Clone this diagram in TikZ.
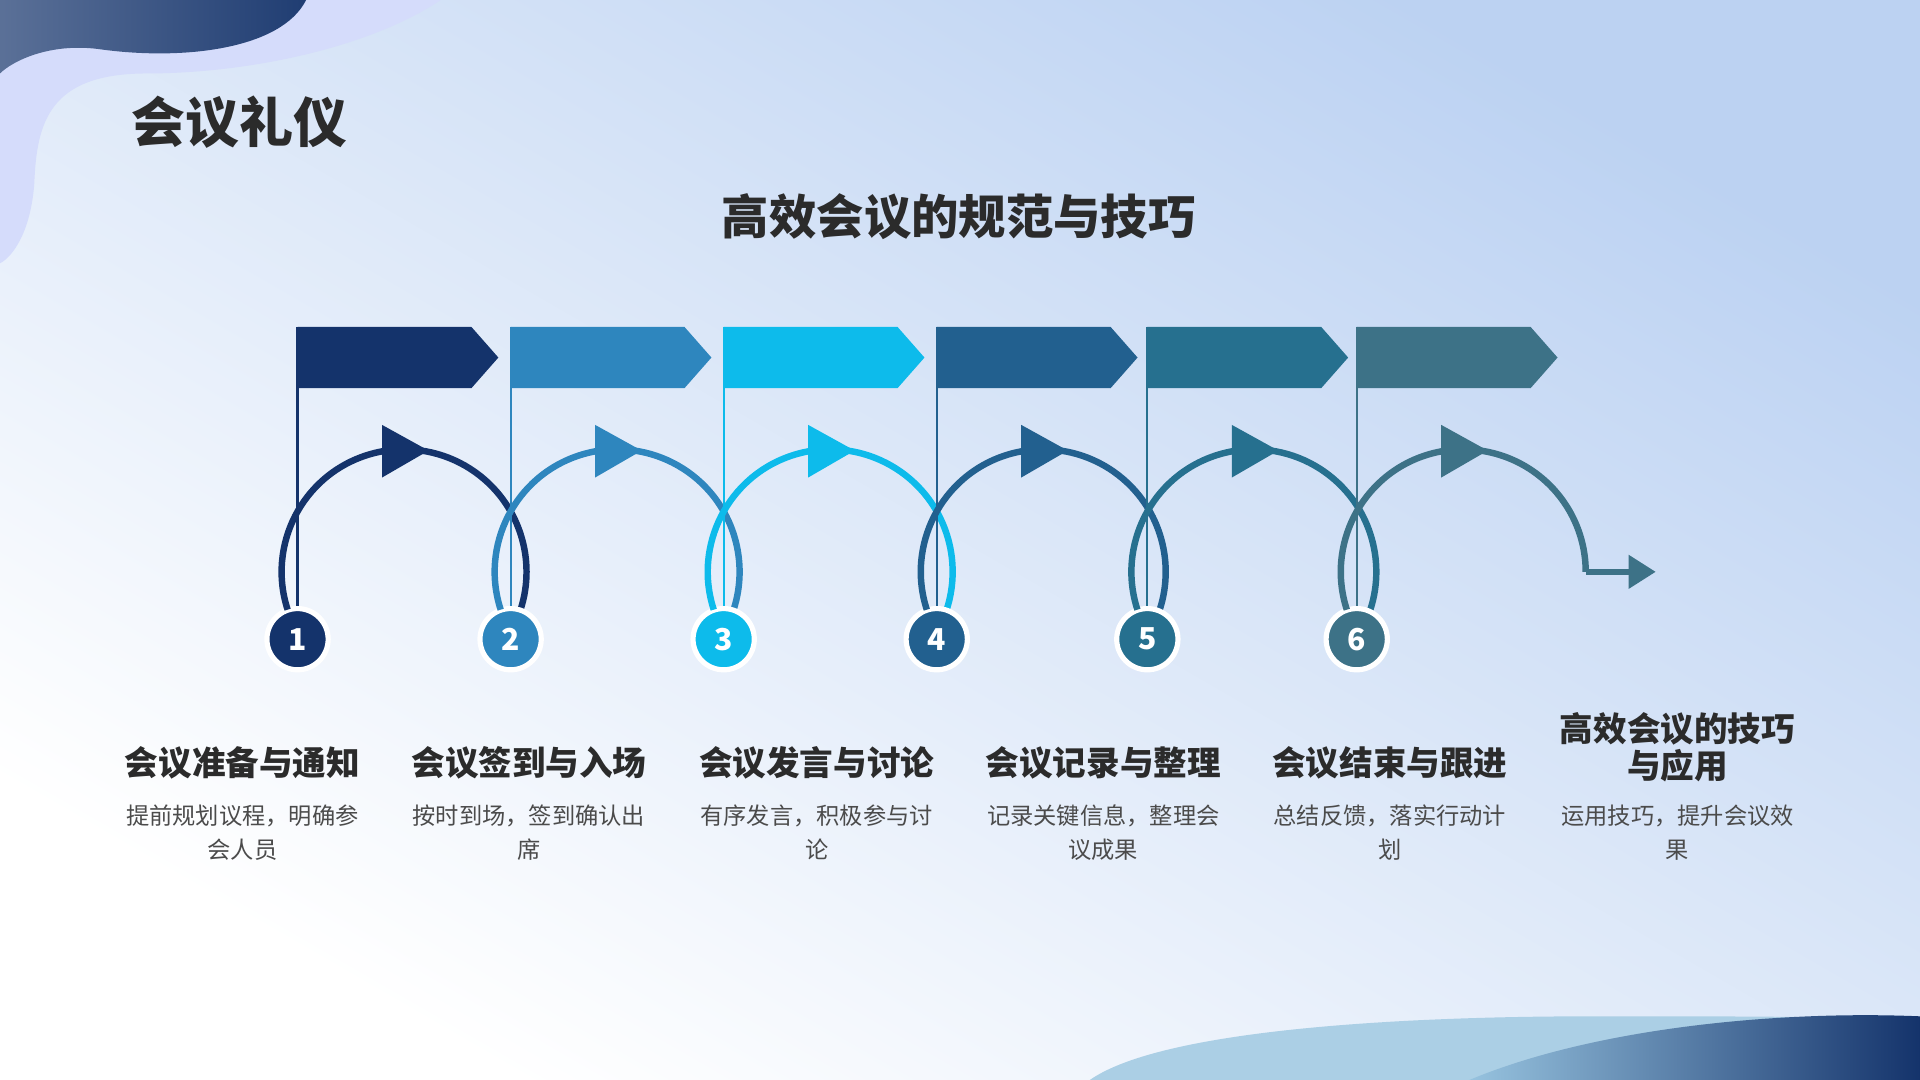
\documentclass[tikz,border=0pt]{standalone}
\usepackage{fontspec}
\setmainfont{Noto Sans CJK SC}
\definecolor{cA}{HTML}{14336B}
\definecolor{cB}{HTML}{2E86BE}
\definecolor{cC}{HTML}{0DBBEB}
\definecolor{cD}{HTML}{22608F}
\definecolor{cE}{HTML}{26708F}
\definecolor{cF}{HTML}{3D7287}
\definecolor{txt}{HTML}{2B2B2B}
\definecolor{bgB}{HTML}{BCD2F2}
\begin{document}
\begin{tikzpicture}[x=0.01cm,y=-0.01cm,
  steptitle/.style={font=\fontsize{7.8}{8}\selectfont\bfseries,text=txt,align=center},
  stepdesc/.style={font=\fontsize{5.4}{8}\selectfont,text=txt!85,align=center,text width=2cm},
  arcline/.style={line width=1.5pt}]
\useasboundingbox (0,0) rectangle (1568,882);
\shade[shading=axis,top color=bgB,bottom color=white,shading angle=-30] (0,0) rectangle (1568,882);
% decorative blobs
\fill[bgB!80!blue!40] (0,0) -- (360,0) .. controls (300,40) and (200,60) .. (120,60) .. controls (40,60) and (30,100) .. (28,150) .. controls (25,190) and (10,210) .. (0,215) -- cycle;
\shade[left color=cA!70,right color=cA!95] (0,0) -- (250,0) .. controls (230,40) and (150,50) .. (80,40) .. controls (40,35) and (10,50) .. (0,60) -- cycle;
\fill[cB!40] (890,882) .. controls (950,840) and (1150,830) .. (1300,830) .. controls (1450,830) and (1520,830) .. (1568,835) -- (1568,882) -- cycle;
\shade[left color=cB!50,right color=cA] (1200,882) .. controls (1300,840) and (1450,825) .. (1568,830) -- (1568,882) -- cycle;
% titles
\node[anchor=west,font=\fontsize{12.5}{14}\selectfont\bfseries,text=txt] (t) at (95,100) {会议礼仪};
\node[font=\fontsize{11}{13}\selectfont\bfseries,text=txt] (st) at (783,177) {高效会议的规范与技巧};
% steps
\foreach \i/\x/\c in {1/243/cA,2/417/cB,3/591/cC,4/765/cD,5/937/cE,6/1108/cF}{
  \fill[\c] (\x,267) -- ++(142,0) -- ++(22,25) -- ++(-22,25) -- (\x,317) -- cycle;
  \node[circle,fill=\c,draw=white,line width=1.2pt,minimum size=0.5cm,inner sep=0pt,text=white,font=\fontsize{7}{8}\selectfont\bfseries\itshape] (c\i) at (\x,522) {\i};
  \draw[\c,line width=0.5pt] (\x,267) -- (c\i.north);
  \pgfmathsetmacro{\cx}{\x+87}
  \ifnum\i<6
    \draw[\c,arcline] (\cx,467) ++(162:100) arc (162:378:100);
  \else
    \draw[\c,arcline] (\cx,467) ++(162:100) arc (162:360:100) coordinate (e6);
  \fi
  \fill[\c] (\cx-18,347) -- (\cx+20,368) -- (\cx-18,390) -- cycle;
}
\coordinate (e7) at (1335,467);
\draw[cF,arcline] (e6) -- (e6 |- e7) -- (e7);
\fill[cF] (1330,453) -- (1352,467) -- (1330,481) -- cycle;
% labels
\node[steptitle] (l1) at (198,623) {会议准备与通知};
\node[steptitle] (l2) at (432,623) {会议签到与入场};
\node[steptitle] (l3) at (667,623) {会议发言与讨论};
\node[steptitle] (l4) at (901,623) {会议记录与整理};
\node[steptitle] (l5) at (1135,623) {会议结束与跟进};
\node[steptitle,font=\fontsize{7.8}{7.6}\selectfont\bfseries] (l6) at (1370,610) {高效会议的技巧\\与应用};
\node[stepdesc] (d1) at (198,680) {提前规划议程，明确参\\会人员};
\node[stepdesc] (d2) at (432,680) {按时到场，签到确认出\\席};
\node[stepdesc] (d3) at (667,680) {有序发言，积极参与讨\\论};
\node[stepdesc] (d4) at (901,680) {记录关键信息，整理会\\议成果};
\node[stepdesc] (d5) at (1135,680) {总结反馈，落实行动计\\划};
\node[stepdesc] (d6) at (1370,680) {运用技巧，提升会议效\\果};
\end{tikzpicture}
\end{document}
